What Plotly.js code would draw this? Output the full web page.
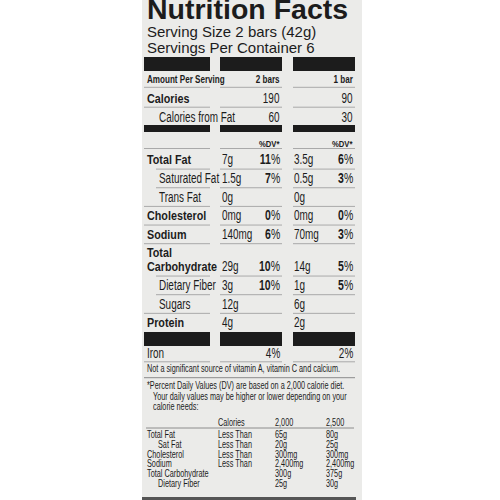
<!DOCTYPE html>
<html><head><meta charset="utf-8">
<script src="https://cdn.plot.ly/plotly-3.0.1.min.js"></script>
<style>html,body{margin:0;padding:0;background:#fff}</style>
</head><body><div id="chart" style="width:500px;height:500px"></div>
<script>
const labelTitle = "Nutrition Facts";
const servingLines = ["Serving Size 2 bars (42g)", "Servings Per Container 6"];
const servingHeads = ["2 bars", "1 bar"];
const calorieNames = ["Calories", "Calories from Fat"];
const calories2bars = ["190", "60"];
const calories1bar = ["90", "30"];
const nutrientNames = ["Total Fat","Saturated Fat","Trans Fat","Cholesterol","Sodium","Total Carbohydrate","Dietary Fiber","Sugars","Protein"];
const subNutrients = ["Saturated Fat","Trans Fat","Dietary Fiber","Sugars"];
const amount2bars = ["7g","1.5g","0g","0mg","140mg","29g","3g","12g","4g"];
const dv2bars = ["11","7","","0","6","10","10","",""];
const amount1bar = ["3.5g","0.5g","0g","0mg","70mg","14g","1g","6g","2g"];
const dv1bar = ["6","3","","0","3","5","5","",""];
const vitaminNames = ["Iron"];
const vitamin2bars = ["4%"];
const vitamin1bar = ["2%"];
const noteText = "Not a significant source of vitamin A, vitamin C and calcium.";
const footnoteLines = ["*Percent Daily Values (DV) are based on a 2,000 calorie diet.", "Your daily values may be higher or lower depending on your", "calorie needs:"];
const refHeads = ["Calories", "2,000", "2,500"];
const refNames = ["Total Fat","Sat Fat","Cholesterol","Sodium","Total Carbohydrate","Dietary Fiber"];
const refSubs = ["Sat Fat","Dietary Fiber"];
const refQualifier = ["Less Than","Less Than","Less Than","Less Than","",""];
const ref2000 = ["65g","20g","300mg","2,400mg","300g","25g"];
const ref2500 = ["80g","25g","300mg","2,400mg","375g","30g"];

const FAMILY = "'Liberation Sans', Arial, Helvetica, sans-serif";
const INK = "#1c1c1c";
const RULE = "#a9a9a9";
const ann = [], annScale = [], annBase = [], annGap = [], shp = [];
// condensing factors imitating the label's condensed typeface
const SQ_REG = 0.71, SQ_BOLD = 0.81, SQ_MIX = 0.75, SQ_SMALL = 0.73;
const BOLD_SIZE = 13.3;
function txt(x, base, text, size, anchor, squeeze, lineGap) {
  ann.push({xref:'x', yref:'y', x:x, y:base - 0.35*size, text:text, showarrow:false,
    xanchor:anchor||'left', yanchor:'middle', align:anchor||'left', borderpad:0,
    font:{family:FAMILY, size:size, color:INK}});
  annScale.push(squeeze || 1);
  annBase.push(base);
  annGap.push(lineGap || 0);
}
function rule(x0, x1, y, color, w) {
  shp.push({type:'line', xref:'x', yref:'y', x0:x0, x1:x1, y0:y, y1:y, line:{color:color||RULE, width:w||1}});
}
function box(x0, x1, y0, y1, color) {
  shp.push({type:'rect', xref:'x', yref:'y', x0:x0, x1:x1, y0:y0, y1:y1, fillcolor:color||INK, line:{width:0}, layer:'below'});
}
const C1 = [144, 210], C2 = [220, 282], C3 = [293, 355];
const COLS = [C1, C2, C3];
function rowRule(y, indent) {
  rule(indent ? 156 : C1[0], C1[1], y);
  rule(C2[0], C2[1], y);
  rule(C3[0], C3[1], y);
}
function rowBars(y0, y1) { COLS.forEach(c => box(c[0], c[1], y0, y1)); }

// panel
box(142, 362, 0, 500, "#ebebe9");

// header
txt(146, 18.8, "<b>" + labelTitle + "</b>", 28.5, 'left');
txt(146, 37.3, servingLines.join('<br>'), 15, 'left', 1, 15.4);
rowBars(57, 71);

txt(146, 83.3, "<b>Amount Per Serving</b>", 10, 'left', SQ_BOLD);
txt(281, 83.3, "<b>" + servingHeads[0] + "</b>", 10, 'right', SQ_BOLD);
txt(354, 83.3, "<b>" + servingHeads[1] + "</b>", 10, 'right', SQ_BOLD);
rowRule(87.3, false);

calorieNames.forEach((n, i) => {
  const b = 103.2 + i * 18.5;
  if (i === 0) txt(146, b, "<b>" + n + "</b>", BOLD_SIZE, 'left', SQ_BOLD);
  else txt(158, b, n, 14, 'left', SQ_REG);
  txt(281, b, calories2bars[i], 14, 'right', SQ_REG);
  txt(354, b, calories1bar[i], 14, 'right', SQ_REG);
  if (i < calorieNames.length - 1) rowRule(b + 4, false);
});
rowBars(125, 132);

txt(281, 146.7, "<b>%DV*</b>", 9.5, 'right', SQ_BOLD);
txt(354, 146.7, "<b>%DV*</b>", 9.5, 'right', SQ_BOLD);

let base = 164.3;
const STEP = 18.65;
const WRAP_GAP = 14;
rowRule(148.5, false);
nutrientNames.forEach((n, i) => {
  const sub = subNutrients.includes(n);
  const words = n.split(' ');
  if (!sub && n.length > 14) {
    const lines = [words[0], words.slice(1).join(' ')].map(w => "<b>" + w + "</b>");
    txt(146, base - 0.3, lines.join('<br>'), BOLD_SIZE, 'left', SQ_BOLD, WRAP_GAP);
    base += WRAP_GAP - 0.3;
  } else if (sub) {
    txt(158, base, n, 14, 'left', SQ_REG);
  } else {
    txt(146, base, "<b>" + n + "</b>", BOLD_SIZE, 'left', SQ_BOLD);
  }
  txt(221, base, amount2bars[i], 14, 'left', SQ_REG);
  txt(293, base, amount1bar[i], 14, 'left', SQ_REG);
  if (dv2bars[i] !== "") txt(281, base, "<b>" + dv2bars[i] + "</b>%", 14, 'right', SQ_MIX);
  if (dv1bar[i] !== "") txt(354, base, "<b>" + dv1bar[i] + "</b>%", 14, 'right', SQ_MIX);
  const next = nutrientNames[i + 1];
  if (next !== undefined) rowRule(base + 4.8, subNutrients.includes(next));
  base += STEP;
});
rowBars(332, 346);

vitaminNames.forEach((n, i) => {
  const b = 358.3 + i * STEP;
  txt(146, b, n, 14, 'left', SQ_REG);
  txt(281, b, vitamin2bars[i], 14, 'right', SQ_REG);
  txt(354, b, vitamin1bar[i], 14, 'right', SQ_REG);
  rowRule(b + 3.5, false);
});

txt(146, 372.5, noteText, 10, 'left', SQ_SMALL);
rule(144, 355, 377.7, "#8c8c8c", 1);
footnoteLines.forEach((s, i) => txt(i === 0 ? 146 : 151.5, 389.5 + i * 10.4, s, 10, 'left', SQ_SMALL));
const refX = [217, 274, 325];
refHeads.forEach((h, i) => txt(refX[i], 425.8, h, 10, 'left', SQ_SMALL));
rule(146, 354, 428, "#8c8c8c", 1);
refNames.forEach((n, i) => {
  const b = 438 + i * 9.8;
  txt(refSubs.includes(n) ? 157 : 146, b, n, 10, 'left', SQ_SMALL);
  if (refQualifier[i]) txt(refX[0], b, refQualifier[i], 10, 'left', SQ_SMALL);
  txt(refX[1], b, ref2000[i], 10, 'left', SQ_SMALL);
  txt(refX[2], b, ref2500[i], 10, 'left', SQ_SMALL);
});
rule(142, 356, 498.5, "#555555", 3);

const layout = {
  width: 500, height: 500,
  margin: {l:0, r:0, t:0, b:0, pad:0},
  paper_bgcolor: '#ffffff', plot_bgcolor: 'rgba(0,0,0,0)',
  showlegend: false,
  xaxis: {range:[0, 500], visible:false, fixedrange:true},
  yaxis: {range:[500, 0], visible:false, fixedrange:true},
  annotations: ann, shapes: shp
};
Plotly.newPlot('chart', [{type:'scatter', x:[], y:[], mode:'markers', hoverinfo:'skip'}], layout,
  {staticPlot:true, displayModeBar:false}).then(gd => {
  gd.querySelectorAll('g.annotation').forEach(g => {
    const i = +g.getAttribute('data-index');
    const t = g.querySelector('text.annotation-text');
    if (!t) return;
    const s = annScale[i] || 1;
    // tighten line spacing of multi-line texts
    if (annGap[i]) {
      const lines = t.querySelectorAll('tspan.line');
      lines.forEach((ln, k) => { if (k > 0) ln.setAttribute('dy', (annGap[i] / ann[i].font.size) + 'em'); });
    }
    const bb = t.getBBox();
    const ax = ann[i].xanchor === 'right' ? bb.x + bb.width : bb.x;
    let dy = 0;
    try {
      const p = t.getStartPositionOfChar(0);
      const m = t.getCTM();
      const cur = m.b * p.x + m.d * p.y + m.f;
      dy = (annBase[i] - cur) / (m.d || 1);
    } catch (e) { dy = 0; }
    t.setAttribute('transform', 'matrix(' + s + ',0,0,1,' + (ax * (1 - s)) + ',' + dy + ')');
  });
});
</script></body></html>
